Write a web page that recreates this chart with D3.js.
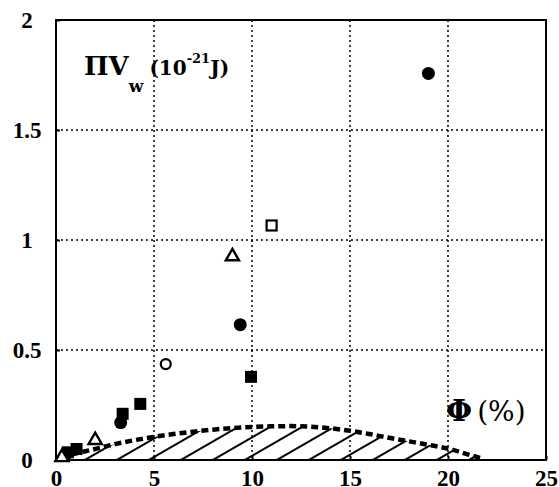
<!DOCTYPE html>
<html lang="en">
<head>
<meta charset="UTF-8">
<title>PiVw vs Phi</title>
<script src="https://cdn.jsdelivr.net/npm/d3@7"></script>
<style>
    html,body{margin:0;background:#fff;}
    svg{display:block;}
</style>
</head>
<body>
<script>
// data (x = phi %, y = PiVw in 1e-21 J)
const filledCircleX = [0.45, 3.3, 9.4, 19.0];
const filledCircleY = [0.02, 0.17, 0.615, 1.757];
const filledSquareX = [0.6, 1.05, 3.4, 4.3, 9.95];
const filledSquareY = [0.035, 0.05, 0.21, 0.255, 0.378];
const openTriangleX = [0.3, 2.0, 9.0];
const openTriangleY = [0.012, 0.09, 0.925];
const openCircleX = [5.6];
const openCircleY = [0.436];
const openSquareX = [11.0];
const openSquareY = [1.066];

// dashed model curve
const curveX = [0.8, 1.5, 2, 3, 4, 5, 6, 7, 8, 9, 10, 11, 12, 13, 14, 15, 16, 17, 18, 19, 20, 21, 21.8];
const curveY = [0.025, 0.04, 0.05, 0.072, 0.09, 0.105, 0.118, 0.129, 0.138, 0.145, 0.15, 0.153, 0.154, 0.151, 0.144, 0.133, 0.118, 0.101, 0.085, 0.069, 0.052, 0.026, 0.005];

const xTicks = [0, 5, 10, 15, 20, 25];
const yTicks = [0, 0.5, 1, 1.5, 2];
const yTickLabels = ["0", "0.5", "1", "1.5", "2"];

const W = 559, H = 487;
const m = {left:56, top:20, right:13, bottom:27};
const w = W - m.left - m.right, h = H - m.top - m.bottom;

const svg = d3.select("body").append("svg").attr("width", W).attr("height", H);

const defs = svg.append("defs");
const pat = defs.append("pattern")
    .attr("id", "hatch")
    .attr("patternUnits", "userSpaceOnUse")
    .attr("width", 16).attr("height", 16)
    .attr("patternTransform", "translate(0,4) rotate(-30)");
pat.append("line").attr("x1", 0).attr("x2", 16).attr("y1", 8).attr("y2", 8)
    .attr("stroke", "#000").attr("stroke-width", 2);

const g = svg.append("g").attr("transform", `translate(${m.left},${m.top})`);

const x = d3.scaleLinear().domain([0, 25]).range([0, w]);
const y = d3.scaleLinear().domain([0, 2]).range([h, 0]);

// grid
g.append("g").selectAll("line").data(xTicks.slice(1, -1)).join("line")
    .attr("x1", d => x(d)).attr("x2", d => x(d)).attr("y1", 0).attr("y2", h)
    .attr("stroke", "#000").attr("stroke-width", 1.5).attr("stroke-dasharray", "2,3");
g.append("g").selectAll("line").data(yTicks.slice(1, -1)).join("line")
    .attr("y1", d => y(d)).attr("y2", d => y(d)).attr("x1", 0).attr("x2", w)
    .attr("stroke", "#000").attr("stroke-width", 1.5).attr("stroke-dasharray", "2,3");

// model curve
const curveData = curveX.map((v, i) => ({x: v, y: curveY[i]}));
const area = d3.area().curve(d3.curveMonotoneX)
    .x(d => x(d.x)).y0(y(0)).y1(d => y(d.y));
const line = d3.line().curve(d3.curveMonotoneX)
    .x(d => x(d.x)).y(d => y(d.y));

g.append("path").datum(curveData).attr("d", area).attr("fill", "url(#hatch)");
g.append("path").datum(curveData).attr("d", line)
    .attr("fill", "none").attr("stroke", "#000").attr("stroke-width", 4.5)
    .attr("stroke-dasharray", "7,4");

// axes
const xAxis = g.append("g").attr("transform", `translate(0,${h})`)
    .call(d3.axisBottom(x).tickValues(xTicks).tickSizeInner(-4).tickSizeOuter(0));
xAxis.selectAll("text").attr("y", 10).attr("dy", "0.71em");
const yAxis = g.append("g")
    .call(d3.axisLeft(y).tickValues(yTicks).tickFormat((d, i) => yTickLabels[i]).tickSizeInner(-4).tickSizeOuter(0));
yAxis.selectAll("text").attr("x", -29).attr("text-anchor", "middle");
g.selectAll(".domain").remove();
g.selectAll(".tick line").attr("stroke", "#000").attr("stroke-width", 2);
g.selectAll(".tick text")
    .attr("font-family", "Liberation Serif, serif")
    .attr("font-weight", "bold")
    .attr("font-size", 23)
    .attr("fill", "#000");

g.append("rect").attr("width", w).attr("height", h)
    .attr("fill", "none").attr("stroke", "#000").attr("stroke-width", 2);

// markers
const pts = (xs, ys) => xs.map((v, i) => ({x: v, y: ys[i]}));
g.append("g").selectAll("rect").data(pts(filledSquareX, filledSquareY)).join("rect")
    .attr("x", d => x(d.x) - 6).attr("y", d => y(d.y) - 6).attr("width", 12).attr("height", 12)
    .attr("fill", "#000");
g.append("g").selectAll("circle").data(pts(filledCircleX, filledCircleY)).join("circle")
    .attr("cx", d => x(d.x)).attr("cy", d => y(d.y)).attr("r", 6.5).attr("fill", "#000");
g.append("g").selectAll("circle").data(pts(openCircleX, openCircleY)).join("circle")
    .attr("cx", d => x(d.x)).attr("cy", d => y(d.y)).attr("r", 5)
    .attr("fill", "#fff").attr("stroke", "#000").attr("stroke-width", 2.2);
g.append("g").selectAll("rect").data(pts(openSquareX, openSquareY)).join("rect")
    .attr("x", d => x(d.x) - 5).attr("y", d => y(d.y) - 5).attr("width", 10).attr("height", 10)
    .attr("fill", "#fff").attr("stroke", "#000").attr("stroke-width", 2.2);
const tri = d3.symbol().type(d3.symbolTriangle).size(75);
g.append("g").selectAll("path").data(pts(openTriangleX, openTriangleY)).join("path")
    .attr("d", tri).attr("transform", d => `translate(${x(d.x)},${y(d.y)})`)
    .attr("fill", "#fff").attr("stroke", "#000").attr("stroke-width", 2.4);

// labels
const yl = svg.append("text").attr("x", 84).attr("y", 75)
    .attr("font-family", "DejaVu Serif, serif").attr("font-weight", "bold").attr("fill", "#000");
yl.append("tspan").attr("font-size", 26).text("ΠV");
yl.append("tspan").attr("font-size", 17).attr("dy", 17).text("w");
yl.append("tspan").attr("font-size", 20).attr("dy", -17).attr("dx", 6).text("(10");
yl.append("tspan").attr("font-size", 13).attr("dy", -12).text("-21");
yl.append("tspan").attr("font-size", 20).attr("dy", 12).text("J)");

const xl = svg.append("text").attr("x", 446).attr("y", 421)
    .attr("font-family", "DejaVu Serif, serif").attr("fill", "#000").attr("font-size", 28);
xl.append("tspan").attr("font-weight", "bold").attr("font-size", 30).text("Φ");
xl.append("tspan").attr("dx", 5).text("(%)");
</script>
</body>
</html>
